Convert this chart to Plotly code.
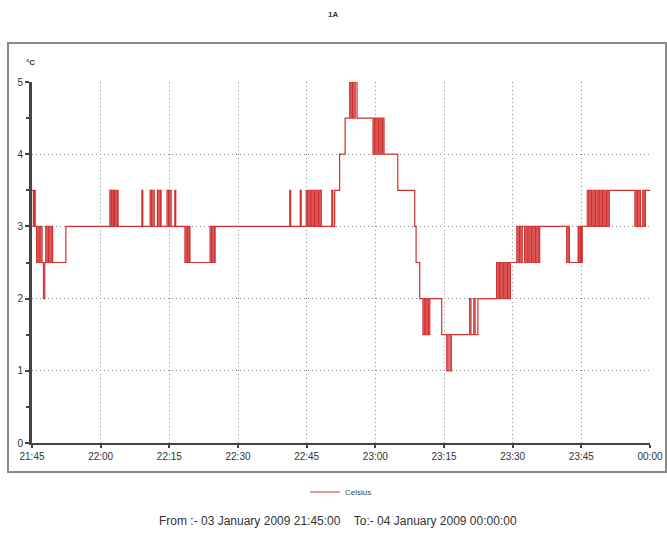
import pandas as pd
import plotly.graph_objects as go

# Readings: minutes after 21:45:00 on 03 Jan 2009, and temperature (°C)
minutes = [
    0.0, 0.3, 0.5, 0.7, 1.0, 1.3, 1.6, 1.9, 2.2, 2.5, 2.8, 3.0, 3.3, 3.6, 3.9, 4.2, 4.5,
    7.4,
    17.0, 17.3, 17.5, 17.8, 18.0, 18.3, 18.6, 18.8,
    24.0, 24.2, 25.8, 26.1, 26.4, 26.7, 27.4, 27.7, 28.0, 28.2,
    29.5, 29.8, 30.1, 30.4, 31.2, 31.4,
    33.4, 33.7, 34.0, 34.3, 34.5,
    38.9, 39.2, 39.5, 39.8, 40.0,
    56.3, 56.5, 58.6, 58.8, 59.9, 60.2, 60.5, 60.8, 61.1, 61.4, 61.7, 62.0, 62.3, 62.6,
    62.9, 63.2, 65.5, 65.7, 66.1,
    67.2, 68.4, 69.4, 69.7, 70.0, 70.3, 70.6, 71.0,
    74.5, 74.8, 75.1, 75.4, 75.7, 76.0, 76.3, 76.6, 76.9,
    79.9, 83.6, 83.9, 84.7,
    85.4, 85.7, 86.0, 86.3, 86.6, 86.9,
    89.5, 90.6, 90.9, 91.3, 91.6,
    95.6, 95.9, 96.5, 96.8, 97.4,
    101.5, 101.8, 102.1, 102.4, 102.7, 103.0, 103.3, 103.6, 103.9, 104.2, 104.5,
    105.9, 106.2, 106.5, 106.8, 107.1, 107.6, 107.9, 108.2, 108.5, 108.8, 109.1, 109.4,
    109.7, 110.0, 110.3, 110.6, 110.9,
    116.8, 117.1, 117.4, 119.3, 119.5, 119.8, 120.0, 120.2,
    121.3, 121.6, 121.9, 122.2, 122.5, 122.8, 123.1, 123.4, 123.7, 124.0, 124.3, 124.6,
    124.9, 125.2, 125.5, 125.8, 126.1,
    131.7, 132.0, 132.3, 132.6, 132.9, 133.4, 133.7, 134.0, 135.0,
]
celsius = [
    3.5, 3, 3.5, 3, 2.5, 3, 2.5, 3, 2.5, 2, 2.5, 3, 2.5, 3, 2.5, 3, 2.5,
    3,
    3.5, 3, 3.5, 3, 3.5, 3, 3.5, 3,
    3.5, 3, 3.5, 3, 3.5, 3, 3.5, 3, 3.5, 3,
    3.5, 3, 3.5, 3, 3.5, 3,
    2.5, 3, 2.5, 3, 2.5,
    3, 2.5, 3, 2.5, 3,
    3.5, 3, 3.5, 3, 3.5, 3, 3.5, 3, 3.5, 3, 3.5, 3, 3.5, 3,
    3.5, 3, 3.5, 3, 3.5,
    4, 4.5, 5, 4.5, 5, 4.5, 5, 4.5,
    4, 4.5, 4, 4.5, 4, 4.5, 4, 4.5, 4,
    3.5, 3, 2.5, 2,
    1.5, 2, 1.5, 2, 1.5, 2,
    1.5, 1, 1.5, 1, 1.5,
    2, 1.5, 2, 1.5, 2,
    2.5, 2, 2.5, 2, 2.5, 2, 2.5, 2, 2.5, 2, 2.5,
    3, 2.5, 3, 2.5, 3, 2.5, 3, 2.5, 3, 2.5, 3, 2.5,
    3, 2.5, 3, 2.5, 3,
    2.5, 3, 2.5, 3, 2.5, 3, 2.5, 3,
    3.5, 3, 3.5, 3, 3.5, 3, 3.5, 3, 3.5, 3, 3.5, 3,
    3.5, 3, 3.5, 3, 3.5,
    3, 3.5, 3, 3.5, 3, 3.5, 3, 3.5, 3.5,
]

tick_labels = ["21:45", "22:00", "22:15", "22:30", "22:45",
               "23:00", "23:15", "23:30", "23:45", "00:00"]
tick_minutes = [0, 15, 30, 45, 60, 75, 90, 105, 120, 135]

start = pd.Timestamp("2009-01-03 21:45:00")
times = start + pd.to_timedelta(minutes, unit="min")
tick_times = start + pd.to_timedelta(tick_minutes, unit="min")

FONT = "Liberation Sans, Arial, sans-serif"

fig = go.Figure()
fig.add_trace(go.Scatter(
    x=times, y=celsius, mode="lines", name="Celsius",
    line=dict(color="#d0302f", width=1.2, shape="hv"),
))

W, H = 667, 535
L, R, T, B = 32, 17, 82, 92
pw = W - L - R
ph = H - T - B

def px(xp):
    return (xp - L) / pw

def py(yp):
    return (H - B - yp) / ph

fig.update_layout(
    width=W, height=H,
    margin=dict(l=L, r=R, t=T, b=B, autoexpand=False),
    paper_bgcolor="white", plot_bgcolor="white",
    font=dict(family=FONT, size=9, color="#333"),
    showlegend=True,
    legend=dict(orientation="h", x=0.5, xanchor="center", y=py(492), yanchor="middle",
                font=dict(size=8, color="#444"), bgcolor="rgba(0,0,0,0)"),
    xaxis=dict(
        range=[tick_times[0], tick_times[-1]],
        tickvals=list(tick_times), ticktext=tick_labels,
        showgrid=True, gridcolor="#8a8a8a", griddash="1px,3px", gridwidth=1,
        showline=True, linecolor="#444", linewidth=2,
        ticks="outside", ticklen=3, tickcolor="#444", tickwidth=2,
        tickfont=dict(size=10, color="#333", family=FONT),
        zeroline=False, automargin=False,
    ),
    yaxis=dict(
        range=[0, 5], tickvals=[0, 1, 2, 3, 4, 5],
        showgrid=True, gridcolor="#8a8a8a", griddash="1px,3px", gridwidth=1,
        showline=True, linecolor="#444", linewidth=3,
        ticks="outside", ticklen=4, tickcolor="#444", tickwidth=2,
        minor=dict(ticks="outside", dtick=0.5, ticklen=3, tickcolor="#444", tickwidth=2, showgrid=False),
        tickfont=dict(size=10, color="#333", family=FONT),
        zeroline=False, automargin=False,
    ),
    shapes=[dict(type="rect", xref="paper", yref="paper",
                 x0=px(8), x1=px(666), y0=py(472), y1=py(43),
                 line=dict(color="#8a8a8a", width=2), fillcolor="rgba(0,0,0,0)",
                 layer="below")],
    annotations=[
        dict(text="<b>1A</b>", xref="paper", yref="paper", x=px(333), y=py(14),
             xanchor="center", yanchor="middle",
             showarrow=False, font=dict(size=8, color="#333", family=FONT)),
        dict(text="<b>°C</b>", xref="paper", yref="paper", x=px(30), y=py(62),
             xanchor="center", yanchor="middle",
             showarrow=False, font=dict(size=8, color="#333", family=FONT)),
        dict(text="From :- 03 January 2009 21:45:00&nbsp;&nbsp;&nbsp;&nbsp;To:- 04 January 2009 00:00:00",
             xref="paper", yref="paper", x=px(338), y=py(521),
             xanchor="center", yanchor="middle",
             showarrow=False, font=dict(size=12, color="#333", family=FONT)),
    ],
)

fig.write_html("out.html", config={"displayModeBar": False},
               post_script="document.body.style.margin='0';")
